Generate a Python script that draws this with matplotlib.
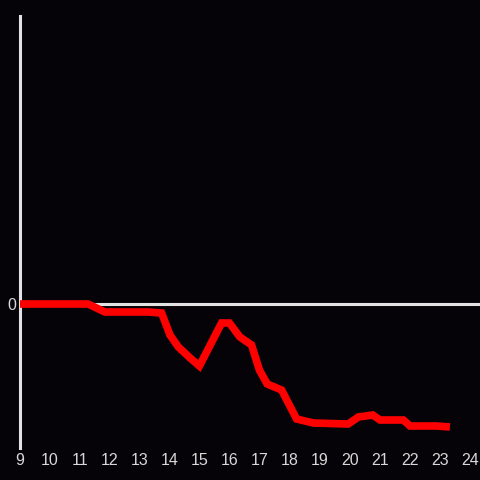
import matplotlib.pyplot as plt

# series
hours = [9.0, 11.27, 11.83, 13.27, 13.72, 14.0, 14.28, 14.67, 14.98, 15.72, 15.98,
         16.33, 16.72, 16.98, 17.24, 17.72, 18.22, 18.78, 19.94, 20.28, 20.76,
         21.0, 21.78, 22.0, 22.89, 23.33]
values = [0.0, 0.0, -0.8, -0.8, -0.9, -3.1, -4.3, -5.4, -6.2, -1.9, -1.9,
          -3.3, -4.1, -6.6, -8.0, -8.6, -11.5, -11.9, -12.0, -11.3, -11.1,
          -11.6, -11.6, -12.2, -12.2, -12.3]
xticks = list(range(9, 25))

bg = '#050307'
axis_col = '#e2e2e2'
text_col = '#d8d8d8'

fig = plt.figure(figsize=(4.8, 4.8), dpi=100, facecolor=bg)
ax = fig.add_axes([20 / 480, 32 / 480, 460 / 480, 432 / 480], facecolor=bg)

ax.axhline(0, color=axis_col, lw=2.2, zorder=1)
ax.plot(hours, values, color='#ff0000', lw=5.5, solid_capstyle='butt',
        solid_joinstyle='miter', zorder=3)

ax.set_xlim(9, 9 + 460 / 30)
ax.set_ylim(-14.4, 28.8)

for side in ['top', 'right', 'bottom']:
    ax.spines[side].set_visible(False)
ax.spines['left'].set_color(axis_col)
ax.spines['left'].set_linewidth(2.2)

ax.set_xticks(xticks)
ax.set_xticklabels([str(t) for t in xticks])
ax.set_yticks([0])
ax.set_yticklabels(['0'])
ax.tick_params(axis='both', length=0, colors=text_col, labelsize=11.5,
               labelfontfamily='Liberation Sans')
ax.tick_params(axis='x', pad=3.5)
ax.tick_params(axis='y', pad=2.5)

fig.savefig('out.png', dpi=100, facecolor=bg)
